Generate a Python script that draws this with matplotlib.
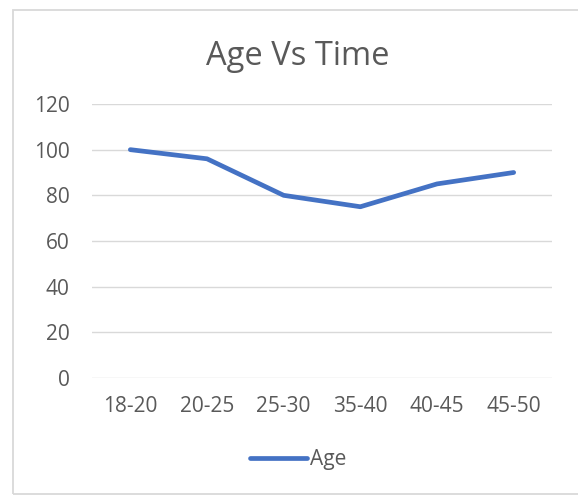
import matplotlib
matplotlib.use("Agg")
import matplotlib.pyplot as plt
from matplotlib.patches import Rectangle

# series
categories = ["18-20", "20-25", "25-30", "35-40", "40-45", "45-50"]
age = [100, 96, 80, 75, 85, 90]
yticks = [0, 20, 40, 60, 80, 100, 120]

TEXT = "#595959"
GRID = "#D9D9D9"
LINE = "#4472C4"
FONT = ["Open Sans", "DejaVu Sans"]

plt.rcParams["font.family"] = FONT

fig = plt.figure(figsize=(5.78, 4.95), dpi=100)
fig.patch.set_facecolor("white")

# chart frame
fig.add_artist(Rectangle((13 / 578, 1.5 / 495), 1.2, 484 / 495, transform=fig.transFigure,
                         fill=False, edgecolor=GRID, linewidth=1.3))

ax = fig.add_axes([92 / 578, 1 - 378 / 495, 460 / 578, 274 / 495])
x = range(len(categories))
ax.plot(x, age, color=LINE, linewidth=3.4, solid_capstyle="round", solid_joinstyle="round",
        label="Age", zorder=3)

ax.set_xlim(-0.5, len(categories) - 0.5)
ax.set_ylim(0, 120)
ax.set_yticks(yticks)
ax.set_xticks(list(x))
ax.set_xticklabels(categories)
ax.yaxis.grid(True, color=GRID, linewidth=1)
ax.set_axisbelow(True)
for s in ax.spines.values():
    s.set_visible(False)
ax.tick_params(axis="both", length=0, labelsize=15, colors=TEXT)
ax.tick_params(axis="y", pad=16)
ax.tick_params(axis="x", pad=13)

fig.text(298 / 578, 1 - 65 / 495, "Age Vs Time", ha="center", va="baseline",
         fontsize=23.5, color=TEXT)

leg = fig.legend(loc="center", bbox_to_anchor=(298 / 578, 1 - 460 / 495), frameon=False,
                 fontsize=15, handlelength=2.75, handletextpad=0.1, labelcolor=TEXT)

fig.savefig("out.png", dpi=100)
